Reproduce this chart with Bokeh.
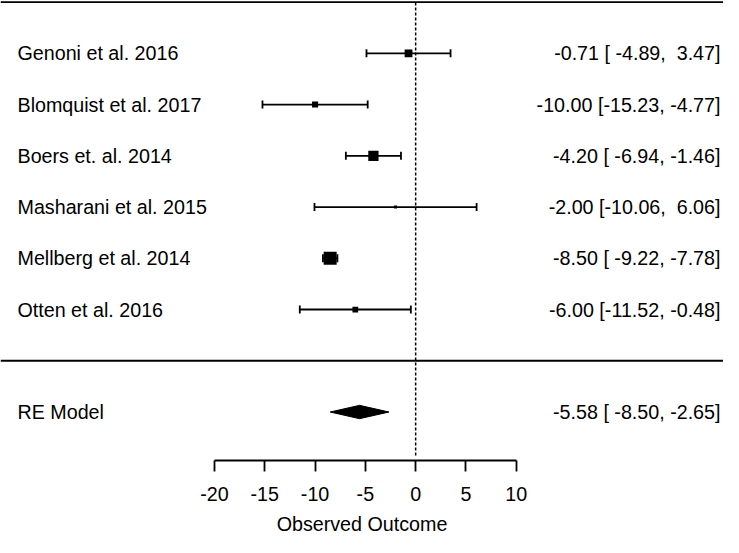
from bokeh.plotting import figure
from bokeh.models import (Range1d, LinearAxis, FixedTicker, Span, Whisker, ColumnDataSource,
                          TeeHead, PrintfTickFormatter, Grid)
from bokeh.core.properties import value
from bokeh.embed import file_html
from bokeh.resources import INLINE

# ---- data ----
studies = ["Genoni et al. 2016", "Blomquist et al. 2017", "Boers et. al. 2014",
           "Masharani et al. 2015", "Mellberg et al. 2014", "Otten et al. 2016"]
est = [-0.71, -10.00, -4.20, -2.00, -8.50, -6.00]
lower = [-4.89, -15.23, -6.94, -10.06, -9.22, -11.52]
upper = [3.47, -4.77, -1.46, 6.06, -7.78, -0.48]
weights = [16.9, 14.0, 21.3, 8.5, 26.1, 13.3]
rows = [6, 5, 4, 3, 2, 1]
re_label = "RE Model"
re_est, re_lower, re_upper = -5.58, -8.50, -2.65
re_row = -1
x_ticks = [-20, -15, -10, -5, 0, 5, 10]

FONT = "Liberation Sans"
FS = "19.7px"
LW = 1.8

p = figure(width=723, height=537,
           x_range=Range1d(-41.28, 30.61), y_range=Range1d(-1.946, 7.03),
           output_backend="svg", toolbar_location=None,
           x_axis_location=None, y_axis_location=None,
           min_border_left=0, min_border_right=0, min_border_top=0,
           min_border_bottom=76)
p.outline_line_color = None
p.background_fill_color = "white"
for r in list(p.center):
    if isinstance(r, Grid):
        r.visible = False

# axis
axis = LinearAxis(bounds=(x_ticks[0], x_ticks[-1]), ticker=FixedTicker(ticks=x_ticks),
                  formatter=PrintfTickFormatter(format="%d"),
                  axis_label="Observed Outcome")
axis.major_tick_in = 0
axis.major_tick_out = 11
axis.minor_tick_in = 0
axis.minor_tick_out = 0
axis.axis_line_width = LW
axis.major_tick_line_width = LW
axis.axis_line_color = "black"
axis.major_tick_line_color = "black"
axis.major_label_text_font = FONT
axis.major_label_text_font_size = FS
axis.major_label_text_color = "black"
axis.major_label_standoff = 15
axis.axis_label_text_font = FONT
axis.axis_label_text_font_size = FS
axis.axis_label_text_font_style = "normal"
axis.axis_label_text_color = "black"
axis.axis_label_standoff = 9
p.add_layout(axis, "below")

# horizontal rules
p.add_layout(Span(location=max(rows) + 1, dimension="width", line_color="black", line_width=LW))
p.add_layout(Span(location=0, dimension="width", line_color="black", line_width=LW))

# reference line at 0
p.segment(x0=[0], y0=[-1.85], x1=[0], y1=[max(rows) + 1],
          line_color="black", line_width=1.5, line_dash="3 2")

# confidence intervals
src = ColumnDataSource(dict(y=rows, est=est, lower=lower, upper=upper,
                            size=[3 + (w - min(weights)) / (max(weights) - min(weights)) * 10 for w in weights]))
wh = Whisker(source=src, base="y", lower="lower", upper="upper", dimension="width",
             line_color="black", line_width=LW,
             lower_head=TeeHead(size=8, line_color="black", line_width=LW),
             upper_head=TeeHead(size=8, line_color="black", line_width=LW))
p.add_layout(wh)
p.scatter(x="est", y="y", size="size", marker="square", source=src,
          fill_color="black", line_color=None)

# RE diamond
h = 0.13
p.patch(x=[re_lower, re_est, re_upper, re_est],
        y=[re_row, re_row + h, re_row, re_row - h],
        fill_color="black", line_color="black", line_width=1)

# labels
all_labels = studies + [re_label]
all_rows = rows + [re_row]
all_est = est + [re_est]
all_lo = lower + [re_lower]
all_hi = upper + [re_upper]
NB = "\u00a0"
right_text = [f"{e:.2f} [" + f"{lo:6.2f}".replace(" ", NB) + "," + f"{hi:6.2f}".replace(" ", NB) + "]"
              for e, lo, hi in zip(all_est, all_lo, all_hi)]

p.text(x=[-39.59] * len(all_labels), y=all_rows, text=all_labels,
       text_font=value(FONT), text_font_size=FS, text_color="black",
       text_align="left", text_baseline="middle")
p.text(x=[30.31] * len(all_labels), y=all_rows, text=right_text,
       text_font=value(FONT), text_font_size=FS, text_color="black",
       text_align="right", text_baseline="middle")

open("out.html", "w").write(file_html(p, INLINE))
